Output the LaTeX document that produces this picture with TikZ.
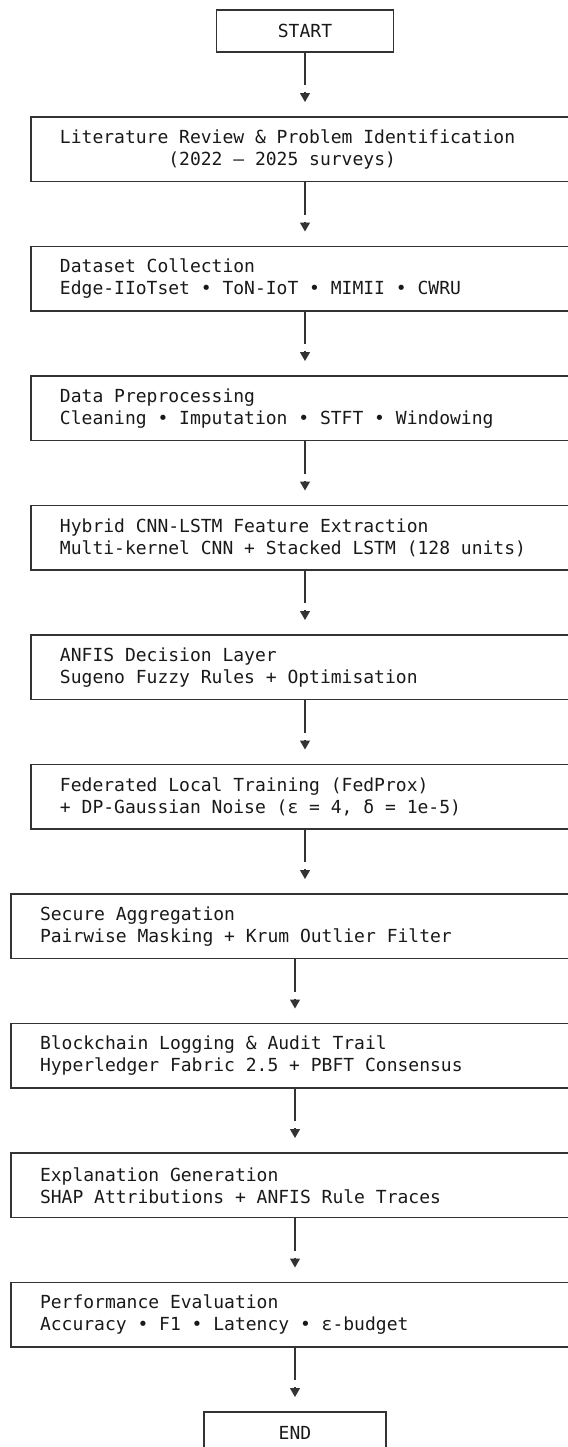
\documentclass[tikz,border=0pt]{standalone}
\usepackage{fontspec}
\newfontfamily\flowmono{DejaVu Sans Mono}
% fixed-pitch word spaces, one column wide
\newcommand{\flowfont}{\flowmono\fontsize{9}{11}\selectfont
  \fontdimen2\font=\fontcharwd\font`\0
  \fontdimen3\font=0pt \fontdimen4\font=0pt}
\usetikzlibrary{arrows.meta,positioning}

\begin{document}
\begin{tikzpicture}[
    node distance=32.5pt,
    stage/.style={rectangle,draw=black!80,line width=0.6pt,outer sep=0pt,align=left,text width=245pt,inner xsep=14.5pt,minimum height=32.25pt,text=black!90,font=\flowfont,
      execute at begin node={\spaceskip=0pt\xspaceskip=0pt}},
    widestage/.style={stage,text width=255pt},
    term/.style={rectangle,draw=black!80,line width=0.6pt,outer sep=0pt,minimum height=21pt,text=black!90,font=\flowfont},
    flow/.style={draw=black!80,line width=0.6pt,-{Triangle[width=5pt,length=4.5pt]},shorten >=7.5pt}]
    \useasboundingbox (0,0) rectangle (284pt,-723.5pt);
    \clip (0,0) rectangle (284pt,-723.5pt);
    % upper column
    \node[term,minimum width=88.5pt] (start) at (152.5pt,-15.5pt) {START};
    \node[stage,below=of start] (lit) {Literature Review \& Problem Identification\\\phantom{0000000000}(2022 – 2025 surveys)};
    \node[stage,below=of lit] (data) {Dataset Collection\\Edge-IIoTset • ToN-IoT • MIMII • CWRU};
    \node[stage,below=of data] (prep) {Data Preprocessing\\Cleaning • Imputation • STFT • Windowing};
    \node[stage,below=of prep] (hybrid) {Hybrid CNN-LSTM Feature Extraction\\Multi-kernel CNN + Stacked LSTM (128 units)};
    \node[stage,below=of hybrid] (anfis) {ANFIS Decision Layer\\Sugeno Fuzzy Rules + Optimisation};
    \node[stage,below=of anfis] (fed) {Federated Local Training (FedProx)\\+ DP-Gaussian Noise (ε = 4, δ = 1e-5)};
    % lower column, shifted left
    \node[widestage,below=of fed,xshift=-5pt] (secagg) {Secure Aggregation\\Pairwise Masking + Krum Outlier Filter};
    \node[widestage,below=of secagg] (chain) {Blockchain Logging \& Audit Trail\\Hyperledger Fabric 2.5 + PBFT Consensus};
    \node[widestage,below=of chain] (explain) {Explanation Generation\\SHAP Attributions + ANFIS Rule Traces};
    \node[widestage,below=of explain] (perf) {Performance Evaluation\\Accuracy • F1 • Latency • ε-budget};
    \node[term,minimum width=91pt,below=of perf] (finish) {END};
    % connectors: stem, gap, then the tip
    \draw[flow] (start.south) -- ++(0,-16.5pt) ++(0,-3.5pt) -- (lit.north);
    \draw[flow] (lit.south) -- ++(0,-16.5pt) ++(0,-3.5pt) -- (data.north);
    \draw[flow] (data.south) -- ++(0,-16.5pt) ++(0,-3.5pt) -- (prep.north);
    \draw[flow] (prep.south) -- ++(0,-16.5pt) ++(0,-3.5pt) -- (hybrid.north);
    \draw[flow] (hybrid.south) -- ++(0,-16.5pt) ++(0,-3.5pt) -- (anfis.north);
    \draw[flow] (anfis.south) -- ++(0,-16.5pt) ++(0,-3.5pt) -- (fed.north);
    \draw[flow] (fed.south) -- ++(0,-16.5pt) ++(0,-3.5pt) -- (fed.south |- secagg.north);
    \draw[flow] (secagg.south) -- ++(0,-16.5pt) ++(0,-3.5pt) -- (chain.north);
    \draw[flow] (chain.south) -- ++(0,-16.5pt) ++(0,-3.5pt) -- (explain.north);
    \draw[flow] (explain.south) -- ++(0,-16.5pt) ++(0,-3.5pt) -- (perf.north);
    \draw[flow] (perf.south) -- ++(0,-16.5pt) ++(0,-3.5pt) -- (finish.north);
\end{tikzpicture}
\end{document}
